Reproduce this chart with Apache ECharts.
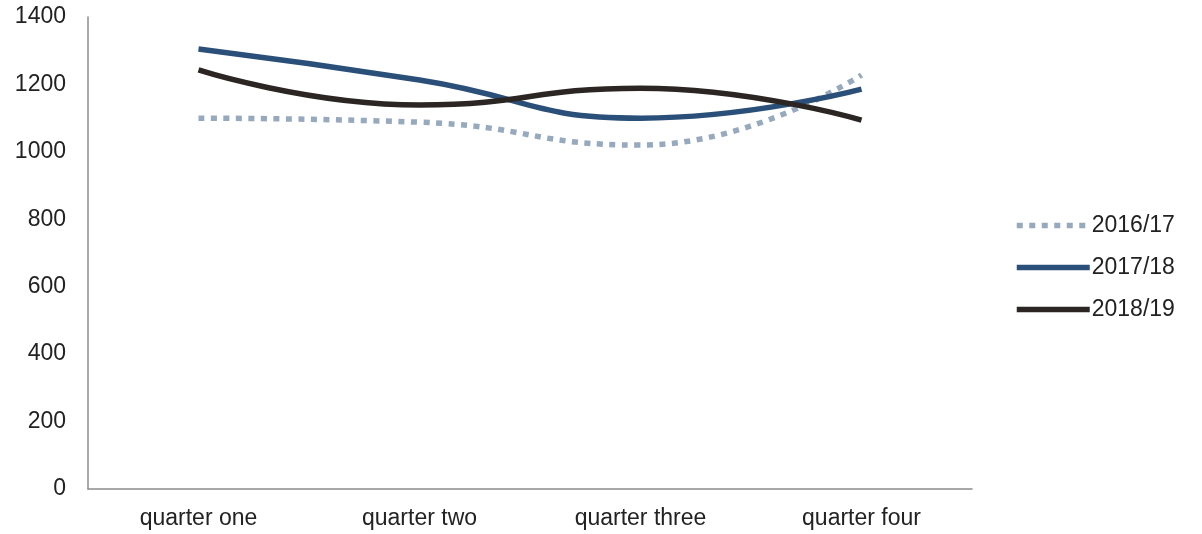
<!DOCTYPE html>
<html><head><meta charset="utf-8">
<script src="https://cdn.jsdelivr.net/npm/echarts@6/dist/echarts.min.js"></script>
<style>html,body{margin:0;padding:0;background:#fff}#c{width:1202px;height:534px}</style>
</head><body><div id="c"></div>
<script>
const categories = ['quarter one', 'quarter two', 'quarter three', 'quarter four'];
const s2016 = [1100, 1088, 1020, 1228];
const s2017 = [1305, 1213, 1100, 1186];
const s2018 = [1243, 1139, 1189, 1094];
const seriesNames = ['2016/17', '2017/18', '2018/19'];
const yTicks = [0, 200, 400, 600, 800, 1000, 1200, 1400];

const colors = ['#97a9bd', '#2a5079', '#2b2624'];
const dashes = [[6, 6.5], 'solid', 'solid'];
const LW = 5.5;

const chart = echarts.init(document.getElementById('c'), null, {renderer: 'canvas'});
const font = '"Liberation Sans", Arial, sans-serif';
function mk(i, data) {
  return {
    name: seriesNames[i], type: 'line', data, smooth: 0.5, symbol: 'none',
    lineStyle: {color: colors[i], width: LW, type: dashes[i], cap: 'butt'},
    itemStyle: {color: colors[i]}
  };
}
chart.setOption({
  animation: false,
  grid: {left: 88, right: 230, top: 17, bottom: 45},
  xAxis: {
    type: 'category', data: categories, boundaryGap: true,
    axisLine: {lineStyle: {color: '#8c8c8c', width: 1.5}},
    axisTick: {show: false},
    axisLabel: {color: '#222', fontSize: 23, fontFamily: font, margin: 18}
  },
  yAxis: {
    type: 'value', min: yTicks[0], max: yTicks[yTicks.length - 1], interval: 200,
    axisLine: {show: true, lineStyle: {color: '#8c8c8c', width: 1.5}},
    axisTick: {show: false},
    splitLine: {show: false},
    axisLabel: {color: '#222', fontSize: 23, fontFamily: font, margin: 22,
      formatter: v => String(v)}
  },
  legend: {
    orient: 'vertical', left: 1009, top: 209, itemGap: 19,
    itemWidth: 73, itemHeight: 23,
    textStyle: {color: '#222', fontSize: 23, fontFamily: font, padding: [0, 0, 0, -3]},
    data: seriesNames.map((n, i) => ({
      name: n,
      itemStyle: {opacity: 0},
      lineStyle: {color: colors[i], width: LW, type: dashes[i], cap: 'butt'}
    }))
  },
  series: [mk(0, s2016), mk(1, s2017), mk(2, s2018)]
});
</script></body></html>
